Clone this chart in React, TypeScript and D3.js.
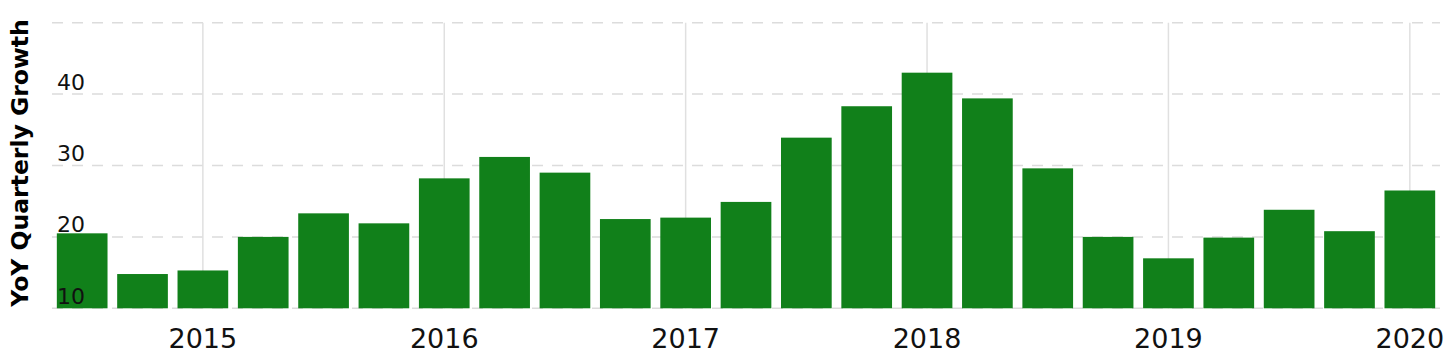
import React from "react";
import * as d3 from "d3";

const quarters = [
  "2014-Q3", "2014-Q4",
  "2015-Q1", "2015-Q2", "2015-Q3", "2015-Q4",
  "2016-Q1", "2016-Q2", "2016-Q3", "2016-Q4",
  "2017-Q1", "2017-Q2", "2017-Q3", "2017-Q4",
  "2018-Q1", "2018-Q2", "2018-Q3", "2018-Q4",
  "2019-Q1", "2019-Q2", "2019-Q3", "2019-Q4",
  "2020-Q1",
];
const growth = [
  20.5, 14.8,
  15.3, 20.0, 23.3, 21.9,
  28.2, 31.2, 29.0, 22.5,
  22.7, 24.9, 33.9, 38.3,
  43.0, 39.4, 29.6, 20.0,
  17.0, 19.9, 23.8, 20.8,
  26.5,
];
const yearTicks = ["2015-Q1", "2016-Q1", "2017-Q1", "2018-Q1", "2019-Q1", "2020-Q1"];
const yTicks = [10, 20, 30, 40, 50];
const yLabelTicks = [10, 20, 30, 40];
const yTitle = "YoY Quarterly Growth";

const W = 1445;
const H = 358;
const left = 52;
const right = 1440;
const top = 22.7;
const bottom = 308.3;
const font = "'DejaVu Sans', Verdana, sans-serif";

export default function App() {
  const x = d3.scaleBand<string>().domain(quarters).range([left, right]).paddingInner(0.16).paddingOuter(0.08);
  const y = d3.scaleLinear().domain([10, 50]).range([bottom, top]);
  return (
    <svg width={W} height={H} style={{ position: "absolute", left: 0, top: 0, background: "#fff" }}>
      {yTicks.map((t) => (
        <line key={"h" + t} x1={left} x2={right} y1={y(t)} y2={y(t)} stroke="#dcdcdc" strokeWidth={1.5} strokeDasharray="11 9" />
      ))}
      {yearTicks.map((q) => {
        const cx = (x(q) as number) + x.bandwidth() / 2;
        return <line key={"v" + q} x1={cx} x2={cx} y1={top} y2={bottom} stroke="#e0e0e0" strokeWidth={1.5} />;
      })}
      {quarters.map((q, i) => (
        <rect key={q} x={x(q)} y={y(growth[i])} width={x.bandwidth()} height={y(10) - y(growth[i])} fill="#11801a" />
      ))}
      {yLabelTicks.map((t) => (
        <text key={"yl" + t} x={57} y={y(t) - 4.5} fontFamily={font} fontSize={22} fill="#111">
          {t}
        </text>
      ))}
      {yearTicks.map((q) => {
        const cx = (x(q) as number) + x.bandwidth() / 2;
        return (
          <text key={"xl" + q} x={cx} y={347.5} textAnchor="middle" fontFamily={font} fontSize={27} fill="#111">
            {q.slice(0, 4)}
          </text>
        );
      })}
      <text
        transform={`translate(28, 163) rotate(-90)`}
        textAnchor="middle"
        fontFamily={font}
        fontSize={23.5}
        fontWeight="bold"
        fill="#000"
      >
        {yTitle}
      </text>
    </svg>
  );
}
